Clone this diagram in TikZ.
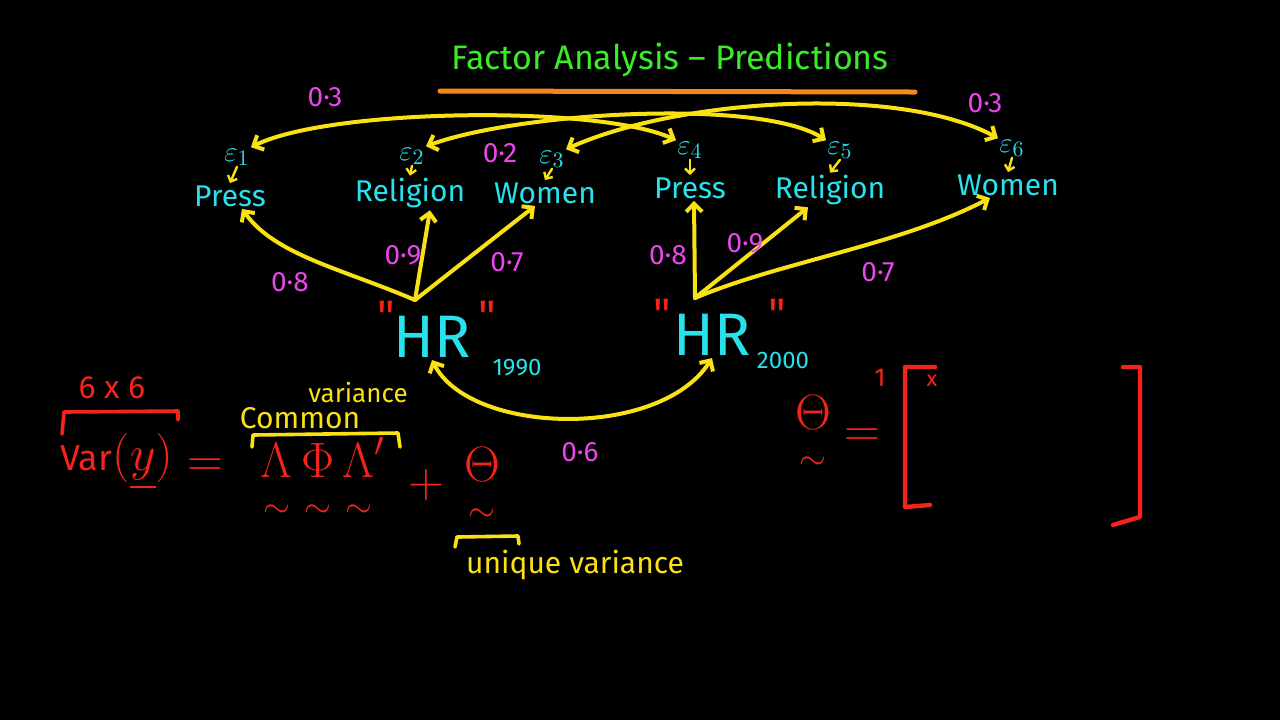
\documentclass[tikz,border=0pt]{standalone}
\usepackage{amsmath}
\usepackage{fontspec}
\setmainfont{Fira Sans}
\newfontfamily\qfont{Fira Sans}[Ligatures=ResetAll]
\usetikzlibrary{arrows.meta}
\definecolor{chalkcyan}{RGB}{40,225,235}
\definecolor{chalkyellow}{RGB}{250,225,20}
\definecolor{chalkpink}{RGB}{235,70,235}
\definecolor{chalkred}{RGB}{245,35,25}
\definecolor{chalkgreen}{RGB}{60,235,40}
\definecolor{chalkorange}{RGB}{245,135,30}
\newcommand{\squig}[1]{\underset{\raisebox{-5pt}{$\scriptstyle\sim$}}{#1}}

\begin{document}
\begin{tikzpicture}[x=0.5pt,y=-0.5pt,
  obs/.style={text=chalkcyan,font=\fontsize{15}{18}\selectfont,inner sep=1pt},
  err/.style={text=chalkcyan,font=\fontsize{15}{17}\selectfont,inner sep=0.5pt},
  wt/.style={text=chalkpink,font=\fontsize{14}{16}\selectfont},
  fac/.style={text=chalkcyan,font=\fontsize{30}{34}\selectfont,inner sep=1pt},
  yr/.style={text=chalkcyan,font=\fontsize{12}{14}\selectfont,inner sep=1pt},
  qt/.style={text=chalkred,font=\qfont\fontsize{22}{24}\selectfont},
  eq/.style={text=chalkred,font=\fontsize{26}{30}\selectfont,inner sep=0pt},
  note/.style={text=chalkyellow,font=\fontsize{15}{17}\selectfont,inner sep=1pt},
  arr/.style={->,draw=chalkyellow,line width=2pt,line cap=round,>={Straight Barb[length=4pt,width=8pt]}},
  cov/.style={arr,<->},
  tick/.style={arr,line width=1.2pt,>={Straight Barb[length=2.5pt,width=5pt]}},
  pen/.style={line width=1.8pt,line cap=round,line join=round}]
\fill[black] (0,0) rectangle (1280,720);
\useasboundingbox (0,0) rectangle (1280,720);

\node[text=chalkgreen,font=\fontsize{17}{20}\selectfont] (title) at (670,60) {Factor Analysis -- Predictions};
\draw[chalkorange,pen,line width=2.5pt] (440,91) -- (915,92);

\node[obs] (p1) at (230,196) {Press};
\node[obs] (r1) at (410,193) {Religion};
\node[obs] (w1) at (545,193) {Women};
\node[obs] (p2) at (690,188) {Press};
\node[obs] (r2) at (830,190) {Religion};
\node[obs] (w2) at (1008,185) {Women};

\node[err] (e1) at (237,157) {$\varepsilon_{1}$};
\node[err] (e2) at (412,156) {$\varepsilon_{2}$};
\node[err] (e3) at (552,159) {$\varepsilon_{3}$};
\node[err] (e4) at (690,150) {$\varepsilon_{4}$};
\node[err] (e5) at (840,150) {$\varepsilon_{5}$};
\node[err] (e6) at (1012,148) {$\varepsilon_{6}$};
\foreach \e/\v in {e1/p1,e2/r1,e3/w1,e4/p2,e5/r2,e6/w2}
  \draw[tick] (\e.south) -- (\v.north);

\draw[cov] (e1.north east) .. controls (330,108) and (600,105) .. (e4.north west);
\draw[cov] (e2.north east) .. controls (520,112) and (760,98) .. (e5.north west);
\draw[cov] (e3.north east) .. controls (680,98) and (900,85) .. (e6.north west);
\node[wt] (c14) at (325,97) {0·3};
\node[wt] (c25) at (500,153) {0·2};
\node[wt] (c36) at (985,103) {0·3};

\node[fac] (hrA) at (432,337) {HR};
\node[qt] (qA1) at (386,316) {"};
\node[qt] (qA2) at (487,316) {"};
\node[yr] (yrA) at (517,368) {1990};
\node[fac] (hrB) at (712,335) {HR};
\node[qt] (qB1) at (662,314) {"};
\node[qt] (qB2) at (777,314) {"};
\node[yr] (yrB) at (783,360) {2000};

\coordinate (apA) at (415,300);
\coordinate (apB) at (695,298);
\draw[arr] (apA) .. controls (340,268) and (275,255) .. ([xshift=6pt]p1.south);
\draw[arr] (apA) -- ([xshift=10pt]r1.south);
\draw[arr] (apA) -- ([xshift=-5pt]w1.south);
\draw[arr] (apB) -- ([xshift=2pt]p2.south);
\draw[arr] (apB) -- ([xshift=-11pt]r2.south);
\draw[arr] (apB) .. controls (780,262) and (900,245) .. ([xshift=-9pt]w2.south);
\node[wt] (lA1) at (290,282) {0·8};
\node[wt] (lA2) at (403,255) {0·9};
\node[wt] (lA3) at (507,262) {0·7};
\node[wt] (lB1) at (668,255) {0·8};
\node[wt] (lB2) at (745,243) {0·9};
\node[wt] (lB3) at (878,272) {0·7};

\draw[cov] (hrA.south) .. controls (470,435) and (660,440) .. (hrB.south);
\node[wt] (fcov) at (580,452) {0·6};

\node[text=chalkred,font=\fontsize{16}{18}\selectfont] (dim) at (112,388) {6 x 6};
\draw[chalkred,pen] (62,434) -- (64,412) -- (178,411) -- (178,420);
\node[eq,anchor=west] (var) at (60,462) {\fontsize{18}{20}\selectfont Var\fontsize{30}{34}\selectfont$(\underline{y})$};
\node[eq] (eqA) at (205,468) {$=$};
\node[eq] (lam) at (323,480) {$\squig{\Lambda}\,\squig{\Phi}\,\squig{\Lambda}'$};
\node[eq] (plus) at (426,485) {$+$};
\node[eq] (theta) at (482,487) {$\squig{\Theta}$};
\draw[chalkyellow,pen] (252,447) -- (253,435) -- (398,433) -- (400,447);
\node[note] (comm) at (300,418) {Common};
\node[note,font=\fontsize{13}{15}\selectfont] (vari) at (358,393) {variance};
\draw[chalkyellow,pen] (455,547) -- (457,537) -- (518,536) -- (519,544);
\node[note] (uniq) at (575,565) {unique variance};

\node[eq] (thetaB) at (813,435) {$\squig{\Theta}$};
\node[eq] (eqB) at (862,438) {$=$};
\node[text=chalkred,font=\fontsize{13}{15}\selectfont] (one) at (880,378) {1};
\node[text=chalkred,font=\fontsize{11}{13}\selectfont] (xx) at (932,381) {x};
\draw[chalkred,pen,line width=2.2pt] (935,367) -- (905,367) -- (905,507) -- (930,505);
\draw[chalkred,pen,line width=2.2pt] (1123,367) -- (1140,367) -- (1140,517) -- (1113,525);
\end{tikzpicture}
\end{document}
